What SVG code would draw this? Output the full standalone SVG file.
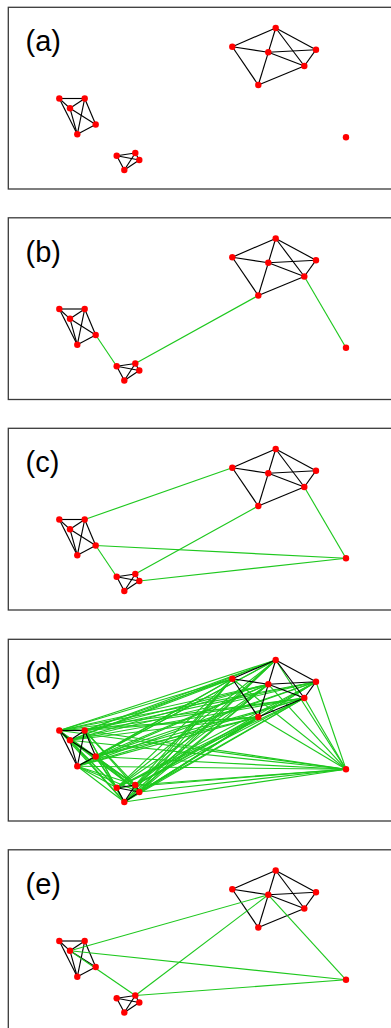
<svg xmlns="http://www.w3.org/2000/svg" xmlns:xlink="http://www.w3.org/1999/xlink" width="391" height="1028" viewBox="0 0 391 1028">
<style>
.frame{fill:#fff;stroke:#3a3a3a;stroke-width:1.3}
.lbl{font-family:"Liberation Sans",Arial,sans-serif;font-size:29px;fill:#000}
.intra line{stroke:#000;stroke-width:1.15}
.inter line{stroke:#1ec81e;stroke-width:1.15}
.n circle{fill:#ff0000}
</style>
<defs>
<g id="intraEdges" class="intra">
<line x1="232.3" y1="46.7" x2="275.7" y2="28"/>
<line x1="232.3" y1="46.7" x2="268.3" y2="52.3"/>
<line x1="232.3" y1="46.7" x2="258.3" y2="85"/>
<line x1="275.7" y1="28" x2="268.3" y2="52.3"/>
<line x1="268.3" y1="52.3" x2="258.3" y2="85"/>
<line x1="275.7" y1="28" x2="316" y2="49.7"/>
<line x1="275.7" y1="28" x2="304.3" y2="66"/>
<line x1="268.3" y1="52.3" x2="316" y2="49.7"/>
<line x1="268.3" y1="52.3" x2="304.3" y2="66"/>
<line x1="316" y1="49.7" x2="304.3" y2="66"/>
<line x1="304.3" y1="66" x2="258.3" y2="85"/>
<line x1="59.3" y1="98.5" x2="84.7" y2="98.5"/>
<line x1="59.3" y1="98.5" x2="70" y2="108.3"/>
<line x1="59.3" y1="98.5" x2="77.3" y2="134.3"/>
<line x1="84.7" y1="98.5" x2="70" y2="108.3"/>
<line x1="84.7" y1="98.5" x2="95.7" y2="124.5"/>
<line x1="84.7" y1="98.5" x2="77.3" y2="134.3"/>
<line x1="70" y1="108.3" x2="95.7" y2="124.5"/>
<line x1="70" y1="108.3" x2="77.3" y2="134.3"/>
<line x1="95.7" y1="124.5" x2="77.3" y2="134.3"/>
<line x1="116.7" y1="155.7" x2="135.3" y2="153"/>
<line x1="116.7" y1="155.7" x2="139.3" y2="160"/>
<line x1="116.7" y1="155.7" x2="124.3" y2="170"/>
<line x1="135.3" y1="153" x2="139.3" y2="160"/>
<line x1="135.3" y1="153" x2="124.3" y2="170"/>
<line x1="139.3" y1="160" x2="124.3" y2="170"/>
</g>
</defs>

<!-- Panel (a) -->
<g id="panel-a">
<rect class="frame" x="8.3" y="7.3" width="400" height="181.7"/>
<text class="lbl" x="25.5" y="51">(a)</text>
<g id="a-connectors"><use xlink:href="#intraEdges"/></g>
<g class="n">
<g id="a-A1"><circle cx="232.3" cy="46.7" r="3.2"/></g>
<g id="a-A2"><circle cx="275.7" cy="28" r="3.2"/></g>
<g id="a-A3"><circle cx="268.3" cy="52.3" r="3.2"/></g>
<g id="a-A4"><circle cx="316" cy="49.7" r="3.2"/></g>
<g id="a-A5"><circle cx="304.3" cy="66" r="3.2"/></g>
<g id="a-A6"><circle cx="258.3" cy="85" r="3.2"/></g>
<g id="a-L1"><circle cx="59.3" cy="98.5" r="3.2"/></g>
<g id="a-L2"><circle cx="84.7" cy="98.5" r="3.2"/></g>
<g id="a-L3"><circle cx="70" cy="108.3" r="3.2"/></g>
<g id="a-L4"><circle cx="95.7" cy="124.5" r="3.2"/></g>
<g id="a-L5"><circle cx="77.3" cy="134.3" r="3.2"/></g>
<g id="a-S1"><circle cx="116.7" cy="155.7" r="3.2"/></g>
<g id="a-S2"><circle cx="135.3" cy="153" r="3.2"/></g>
<g id="a-S3"><circle cx="139.3" cy="160" r="3.2"/></g>
<g id="a-S4"><circle cx="124.3" cy="170" r="3.2"/></g>
<g id="a-I"><circle cx="346" cy="137.3" r="3.2"/></g>
</g>
</g>

<!-- Panel (b) -->
<g id="panel-b" transform="translate(0,210.5)">
<rect class="frame" x="8.3" y="7.3" width="400" height="181.7"/>
<text class="lbl" x="25.5" y="51">(b)</text>
<g id="b-connectors">
<use xlink:href="#intraEdges"/>
<g class="inter">
<line x1="95.7" y1="124.5" x2="116.7" y2="155.7"/>
<line x1="135.3" y1="153" x2="258.3" y2="85"/>
<line x1="304.3" y1="66" x2="346" y2="137.3"/>
</g>
</g>
<g class="n">
<g id="b-A1"><circle cx="232.3" cy="46.7" r="3.2"/></g>
<g id="b-A2"><circle cx="275.7" cy="28" r="3.2"/></g>
<g id="b-A3"><circle cx="268.3" cy="52.3" r="3.2"/></g>
<g id="b-A4"><circle cx="316" cy="49.7" r="3.2"/></g>
<g id="b-A5"><circle cx="304.3" cy="66" r="3.2"/></g>
<g id="b-A6"><circle cx="258.3" cy="85" r="3.2"/></g>
<g id="b-L1"><circle cx="59.3" cy="98.5" r="3.2"/></g>
<g id="b-L2"><circle cx="84.7" cy="98.5" r="3.2"/></g>
<g id="b-L3"><circle cx="70" cy="108.3" r="3.2"/></g>
<g id="b-L4"><circle cx="95.7" cy="124.5" r="3.2"/></g>
<g id="b-L5"><circle cx="77.3" cy="134.3" r="3.2"/></g>
<g id="b-S1"><circle cx="116.7" cy="155.7" r="3.2"/></g>
<g id="b-S2"><circle cx="135.3" cy="153" r="3.2"/></g>
<g id="b-S3"><circle cx="139.3" cy="160" r="3.2"/></g>
<g id="b-S4"><circle cx="124.3" cy="170" r="3.2"/></g>
<g id="b-I"><circle cx="346" cy="137.3" r="3.2"/></g>
</g>
</g>

<!-- Panel (c) -->
<g id="panel-c" transform="translate(0,421)">
<rect class="frame" x="8.3" y="7.3" width="400" height="181.7"/>
<text class="lbl" x="25.5" y="51">(c)</text>
<g id="c-connectors">
<use xlink:href="#intraEdges"/>
<g class="inter">
<line x1="84.7" y1="98.5" x2="232.3" y2="46.7"/>
<line x1="95.7" y1="124.5" x2="116.7" y2="155.7"/>
<line x1="95.7" y1="124.5" x2="346" y2="137.3"/>
<line x1="135.3" y1="153" x2="258.3" y2="85"/>
<line x1="139.3" y1="160" x2="346" y2="137.3"/>
<line x1="304.3" y1="66" x2="346" y2="137.3"/>
</g>
</g>
<g class="n">
<g id="c-A1"><circle cx="232.3" cy="46.7" r="3.2"/></g>
<g id="c-A2"><circle cx="275.7" cy="28" r="3.2"/></g>
<g id="c-A3"><circle cx="268.3" cy="52.3" r="3.2"/></g>
<g id="c-A4"><circle cx="316" cy="49.7" r="3.2"/></g>
<g id="c-A5"><circle cx="304.3" cy="66" r="3.2"/></g>
<g id="c-A6"><circle cx="258.3" cy="85" r="3.2"/></g>
<g id="c-L1"><circle cx="59.3" cy="98.5" r="3.2"/></g>
<g id="c-L2"><circle cx="84.7" cy="98.5" r="3.2"/></g>
<g id="c-L3"><circle cx="70" cy="108.3" r="3.2"/></g>
<g id="c-L4"><circle cx="95.7" cy="124.5" r="3.2"/></g>
<g id="c-L5"><circle cx="77.3" cy="134.3" r="3.2"/></g>
<g id="c-S1"><circle cx="116.7" cy="155.7" r="3.2"/></g>
<g id="c-S2"><circle cx="135.3" cy="153" r="3.2"/></g>
<g id="c-S3"><circle cx="139.3" cy="160" r="3.2"/></g>
<g id="c-S4"><circle cx="124.3" cy="170" r="3.2"/></g>
<g id="c-I"><circle cx="346" cy="137.3" r="3.2"/></g>
</g>
</g>

<!-- Panel (d) -->
<g id="panel-d" transform="translate(0,632)">
<rect class="frame" x="8.3" y="7.3" width="400" height="181.7"/>
<text class="lbl" x="25.5" y="51">(d)</text>
<g id="d-connectors">
<g class="inter">
<line x1="59.3" y1="98.5" x2="232.3" y2="46.7"/><line x1="59.3" y1="98.5" x2="275.7" y2="28"/><line x1="59.3" y1="98.5" x2="268.3" y2="52.3"/><line x1="59.3" y1="98.5" x2="316" y2="49.7"/><line x1="59.3" y1="98.5" x2="304.3" y2="66"/><line x1="59.3" y1="98.5" x2="258.3" y2="85"/>
<line x1="84.7" y1="98.5" x2="232.3" y2="46.7"/><line x1="84.7" y1="98.5" x2="275.7" y2="28"/><line x1="84.7" y1="98.5" x2="268.3" y2="52.3"/><line x1="84.7" y1="98.5" x2="316" y2="49.7"/><line x1="84.7" y1="98.5" x2="304.3" y2="66"/><line x1="84.7" y1="98.5" x2="258.3" y2="85"/>
<line x1="70" y1="108.3" x2="232.3" y2="46.7"/><line x1="70" y1="108.3" x2="275.7" y2="28"/><line x1="70" y1="108.3" x2="268.3" y2="52.3"/><line x1="70" y1="108.3" x2="316" y2="49.7"/><line x1="70" y1="108.3" x2="304.3" y2="66"/><line x1="70" y1="108.3" x2="258.3" y2="85"/>
<line x1="95.7" y1="124.5" x2="232.3" y2="46.7"/><line x1="95.7" y1="124.5" x2="275.7" y2="28"/><line x1="95.7" y1="124.5" x2="268.3" y2="52.3"/><line x1="95.7" y1="124.5" x2="316" y2="49.7"/><line x1="95.7" y1="124.5" x2="304.3" y2="66"/><line x1="95.7" y1="124.5" x2="258.3" y2="85"/>
<line x1="77.3" y1="134.3" x2="232.3" y2="46.7"/><line x1="77.3" y1="134.3" x2="275.7" y2="28"/><line x1="77.3" y1="134.3" x2="268.3" y2="52.3"/><line x1="77.3" y1="134.3" x2="316" y2="49.7"/><line x1="77.3" y1="134.3" x2="304.3" y2="66"/><line x1="77.3" y1="134.3" x2="258.3" y2="85"/>
<line x1="59.3" y1="98.5" x2="116.7" y2="155.7"/><line x1="59.3" y1="98.5" x2="135.3" y2="153"/><line x1="59.3" y1="98.5" x2="139.3" y2="160"/><line x1="59.3" y1="98.5" x2="124.3" y2="170"/>
<line x1="84.7" y1="98.5" x2="116.7" y2="155.7"/><line x1="84.7" y1="98.5" x2="135.3" y2="153"/><line x1="84.7" y1="98.5" x2="139.3" y2="160"/><line x1="84.7" y1="98.5" x2="124.3" y2="170"/>
<line x1="70" y1="108.3" x2="116.7" y2="155.7"/><line x1="70" y1="108.3" x2="135.3" y2="153"/><line x1="70" y1="108.3" x2="139.3" y2="160"/><line x1="70" y1="108.3" x2="124.3" y2="170"/>
<line x1="95.7" y1="124.5" x2="116.7" y2="155.7"/><line x1="95.7" y1="124.5" x2="135.3" y2="153"/><line x1="95.7" y1="124.5" x2="139.3" y2="160"/><line x1="95.7" y1="124.5" x2="124.3" y2="170"/>
<line x1="77.3" y1="134.3" x2="116.7" y2="155.7"/><line x1="77.3" y1="134.3" x2="135.3" y2="153"/><line x1="77.3" y1="134.3" x2="139.3" y2="160"/><line x1="77.3" y1="134.3" x2="124.3" y2="170"/>
<line x1="116.7" y1="155.7" x2="232.3" y2="46.7"/><line x1="116.7" y1="155.7" x2="275.7" y2="28"/><line x1="116.7" y1="155.7" x2="268.3" y2="52.3"/><line x1="116.7" y1="155.7" x2="316" y2="49.7"/><line x1="116.7" y1="155.7" x2="304.3" y2="66"/><line x1="116.7" y1="155.7" x2="258.3" y2="85"/>
<line x1="135.3" y1="153" x2="232.3" y2="46.7"/><line x1="135.3" y1="153" x2="275.7" y2="28"/><line x1="135.3" y1="153" x2="268.3" y2="52.3"/><line x1="135.3" y1="153" x2="316" y2="49.7"/><line x1="135.3" y1="153" x2="304.3" y2="66"/><line x1="135.3" y1="153" x2="258.3" y2="85"/>
<line x1="139.3" y1="160" x2="232.3" y2="46.7"/><line x1="139.3" y1="160" x2="275.7" y2="28"/><line x1="139.3" y1="160" x2="268.3" y2="52.3"/><line x1="139.3" y1="160" x2="316" y2="49.7"/><line x1="139.3" y1="160" x2="304.3" y2="66"/><line x1="139.3" y1="160" x2="258.3" y2="85"/>
<line x1="124.3" y1="170" x2="232.3" y2="46.7"/><line x1="124.3" y1="170" x2="275.7" y2="28"/><line x1="124.3" y1="170" x2="268.3" y2="52.3"/><line x1="124.3" y1="170" x2="316" y2="49.7"/><line x1="124.3" y1="170" x2="304.3" y2="66"/><line x1="124.3" y1="170" x2="258.3" y2="85"/>
<line x1="59.3" y1="98.5" x2="346" y2="137.3"/><line x1="84.7" y1="98.5" x2="346" y2="137.3"/><line x1="70" y1="108.3" x2="346" y2="137.3"/><line x1="95.7" y1="124.5" x2="346" y2="137.3"/><line x1="77.3" y1="134.3" x2="346" y2="137.3"/>
<line x1="116.7" y1="155.7" x2="346" y2="137.3"/><line x1="135.3" y1="153" x2="346" y2="137.3"/><line x1="139.3" y1="160" x2="346" y2="137.3"/><line x1="124.3" y1="170" x2="346" y2="137.3"/>
<line x1="232.3" y1="46.7" x2="346" y2="137.3"/><line x1="275.7" y1="28" x2="346" y2="137.3"/><line x1="268.3" y1="52.3" x2="346" y2="137.3"/><line x1="316" y1="49.7" x2="346" y2="137.3"/><line x1="304.3" y1="66" x2="346" y2="137.3"/><line x1="258.3" y1="85" x2="346" y2="137.3"/>
</g>
<use xlink:href="#intraEdges"/>
</g>
<g class="n">
<g id="d-A1"><circle cx="232.3" cy="46.7" r="3.2"/></g>
<g id="d-A2"><circle cx="275.7" cy="28" r="3.2"/></g>
<g id="d-A3"><circle cx="268.3" cy="52.3" r="3.2"/></g>
<g id="d-A4"><circle cx="316" cy="49.7" r="3.2"/></g>
<g id="d-A5"><circle cx="304.3" cy="66" r="3.2"/></g>
<g id="d-A6"><circle cx="258.3" cy="85" r="3.2"/></g>
<g id="d-L1"><circle cx="59.3" cy="98.5" r="3.2"/></g>
<g id="d-L2"><circle cx="84.7" cy="98.5" r="3.2"/></g>
<g id="d-L3"><circle cx="70" cy="108.3" r="3.2"/></g>
<g id="d-L4"><circle cx="95.7" cy="124.5" r="3.2"/></g>
<g id="d-L5"><circle cx="77.3" cy="134.3" r="3.2"/></g>
<g id="d-S1"><circle cx="116.7" cy="155.7" r="3.2"/></g>
<g id="d-S2"><circle cx="135.3" cy="153" r="3.2"/></g>
<g id="d-S3"><circle cx="139.3" cy="160" r="3.2"/></g>
<g id="d-S4"><circle cx="124.3" cy="170" r="3.2"/></g>
<g id="d-I"><circle cx="346" cy="137.3" r="3.2"/></g>
</g>
</g>

<!-- Panel (e) -->
<g id="panel-e" transform="translate(0,842.5)">
<rect class="frame" x="8.3" y="7.3" width="400" height="181.7"/>
<text class="lbl" x="25.5" y="51">(e)</text>
<g id="e-connectors">
<use xlink:href="#intraEdges"/>
<g class="inter">
<line x1="70" y1="108.3" x2="268.3" y2="52.3"/>
<line x1="70" y1="108.3" x2="135.3" y2="153"/>
<line x1="70" y1="108.3" x2="346" y2="137.3"/>
<line x1="135.3" y1="153" x2="268.3" y2="52.3"/>
<line x1="135.3" y1="153" x2="346" y2="137.3"/>
<line x1="268.3" y1="52.3" x2="346" y2="137.3"/>
</g>
</g>
<g class="n">
<g id="e-A1"><circle cx="232.3" cy="46.7" r="3.2"/></g>
<g id="e-A2"><circle cx="275.7" cy="28" r="3.2"/></g>
<g id="e-A3"><circle cx="268.3" cy="52.3" r="3.2"/></g>
<g id="e-A4"><circle cx="316" cy="49.7" r="3.2"/></g>
<g id="e-A5"><circle cx="304.3" cy="66" r="3.2"/></g>
<g id="e-A6"><circle cx="258.3" cy="85" r="3.2"/></g>
<g id="e-L1"><circle cx="59.3" cy="98.5" r="3.2"/></g>
<g id="e-L2"><circle cx="84.7" cy="98.5" r="3.2"/></g>
<g id="e-L3"><circle cx="70" cy="108.3" r="3.2"/></g>
<g id="e-L4"><circle cx="95.7" cy="124.5" r="3.2"/></g>
<g id="e-L5"><circle cx="77.3" cy="134.3" r="3.2"/></g>
<g id="e-S1"><circle cx="116.7" cy="155.7" r="3.2"/></g>
<g id="e-S2"><circle cx="135.3" cy="153" r="3.2"/></g>
<g id="e-S3"><circle cx="139.3" cy="160" r="3.2"/></g>
<g id="e-S4"><circle cx="124.3" cy="170" r="3.2"/></g>
<g id="e-I"><circle cx="346" cy="137.3" r="3.2"/></g>
</g>
</g>
</svg>
